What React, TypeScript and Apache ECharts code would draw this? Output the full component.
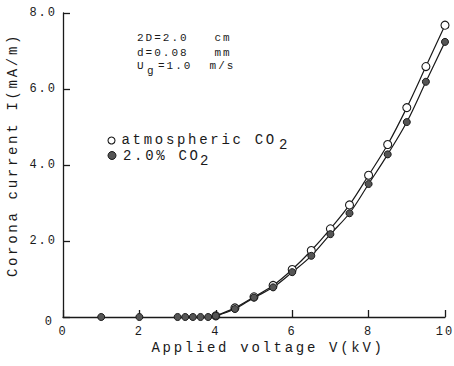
import React, { useEffect, useRef } from "react";
import * as echarts from "echarts";

// Corona current vs applied voltage, two gas compositions
const voltageAtm = [4.0, 4.5, 5.0, 5.5, 6.0, 6.5, 7.0, 7.5, 8.0, 8.5, 9.0, 9.5, 10.0];
const currentAtm = [0.03, 0.24, 0.53, 0.83, 1.25, 1.75, 2.32, 2.95, 3.73, 4.54, 5.51, 6.59, 7.68];

const voltageCO2 = [1.0, 2.0, 3.0, 3.2, 3.4, 3.6, 3.8, 4.0, 4.5, 5.0, 5.5, 6.0, 6.5, 7.0, 7.5, 8.0, 8.5, 9.0, 9.5, 10.0];
const currentCO2 = [0, 0, 0, 0, 0, 0, 0, 0.03, 0.21, 0.51, 0.78, 1.18, 1.61, 2.18, 2.73, 3.5, 4.28, 5.13, 6.19, 7.24];

// Axis ranges (min, max, step)
const xRange = [0, 10, 2];
const yRange = [0, 8, 2];

const xAxisTitle = "Applied voltage V(kV)";
const yAxisTitle = "Corona current I(mA/m)";
const legendAtm = "atmospheric CO";
const legendCO2 = "2.0% CO";
const subscriptTwo = "2";
const conditionLines = ["2D=2.0   cm", "d=0.08   mm"];
const velocityLabel = "U";
const velocitySub = "g";
const velocityValue = "=1.0  m/s";

const FONT = "'Liberation Mono', 'DejaVu Sans Mono', monospace";
const INK = "#1a1a1a";

const pairs = (xs: number[], ys: number[]) => xs.map((x, i) => [x, ys[i]]);
// fitted curves are drawn from corona onset (4 kV) upward
const curvePairs = (xs: number[], ys: number[]) =>
  pairs(xs, ys).filter((p) => p[0] >= 4);

const css = `
body { margin: 0; }
.corona-fig text { white-space: pre; }
.corona-fig text[style*="14px"] { letter-spacing: 2.7px; }
.corona-fig text[style*="11px"], .corona-fig text[style*="12px"] { letter-spacing: 2px; }
`;

export default function App() {
  const ref = useRef<HTMLDivElement>(null);

  useEffect(() => {
    if (!ref.current) return;
    const chart = echarts.init(ref.current, null, { renderer: "svg" });

    const txt = (
      text: string,
      x: number,
      y: number,
      size: number,
      extra: Record<string, unknown> = {}
    ) => ({
      type: "text",
      x,
      y,
      silent: true,
      ...extra,
      style: {
        text,
        fontSize: size,
        fontFamily: FONT,
        fill: INK,
        align: (extra as any).align || "left",
        verticalAlign: "middle",
      },
    });

    const axisCommon = {
      axisLine: { lineStyle: { color: INK, width: 1.3 } },
      axisTick: { show: true, inside: true, length: 7, lineStyle: { color: INK, width: 1.3 } },
      splitLine: { show: false },
    };

    chart.setOption({
      animation: false,
      backgroundColor: "#fff",
      grid: { left: 63, right: 9, top: 13, bottom: 49, containLabel: false, outerBoundsMode: "none" },
      xAxis: {
        type: "value",
        min: xRange[0],
        max: xRange[1],
        interval: xRange[2],
        ...axisCommon,
        axisLabel: { margin: 9, fontSize: 12, fontFamily: FONT, color: INK },
      },
      yAxis: {
        type: "value",
        min: yRange[0],
        max: yRange[1],
        interval: yRange[2],
        ...axisCommon,
        axisLabel: {
          margin: 6,
          fontSize: 12,
          fontFamily: FONT,
          color: INK,
          formatter: (v: number) => (v === 0 ? "{z|0}" : v.toFixed(1)),
          rich: {
            z: { fontSize: 12, fontFamily: FONT, color: INK, padding: [10, 3, 0, 0] },
          },
        },
      },
      series: [
        {
          type: "line",
          data: curvePairs(voltageAtm, currentAtm),
          smooth: 0.35,
          showSymbol: false,
          silent: true,
          lineStyle: { color: INK, width: 1.2 },
          z: 2,
        },
        {
          type: "line",
          data: curvePairs(voltageCO2, currentCO2),
          smooth: 0.35,
          showSymbol: false,
          silent: true,
          lineStyle: { color: INK, width: 1.2 },
          z: 2,
        },
        {
          type: "scatter",
          data: pairs(voltageAtm, currentAtm),
          symbol: "circle",
          symbolSize: 8,
          silent: true,
          itemStyle: { color: "#fff", borderColor: INK, borderWidth: 1.1, opacity: 1 },
          z: 3,
        },
        {
          type: "scatter",
          data: pairs(voltageCO2, currentCO2),
          symbol: "circle",
          symbolSize: 7,
          silent: true,
          itemStyle: { color: "#555", borderColor: INK, borderWidth: 1, opacity: 1 },
          z: 4,
        },
      ],
      graphic: [
        // axis titles
        txt(xAxisTitle, 151.5, 348, 14),
        txt(yAxisTitle, 13, 155, 14, { rotation: Math.PI / 2, align: "center" }),
        // experimental conditions
        txt(conditionLines[0], 137, 37.5, 11),
        txt(conditionLines[1], 137, 52.5, 11),
        txt(velocityLabel, 137, 66, 11),
        txt(velocitySub, 147, 71, 11),
        txt(velocityValue, 158, 66, 11),
        // legend
        {
          type: "circle",
          silent: true,
          shape: { cx: 111.5, cy: 140.5, r: 3.5 },
          style: { fill: "#fff", stroke: INK, lineWidth: 1.1 },
        },
        {
          type: "circle",
          silent: true,
          shape: { cx: 112, cy: 155.5, r: 4 },
          style: { fill: "#555", stroke: INK, lineWidth: 1 },
        },
        txt(legendAtm, 121.5, 140, 14),
        txt(subscriptTwo, 279, 144.5, 14),
        txt(legendCO2, 123, 156, 14),
        txt(subscriptTwo, 200, 161, 14),
      ],
    });

    return () => chart.dispose();
  }, []);

  return (
    <div className="corona-fig" style={{ position: "fixed", left: 0, top: 0 }}>
      <style>{css}</style>
      <div ref={ref} style={{ width: 454, height: 366 }} />
    </div>
  );
}
